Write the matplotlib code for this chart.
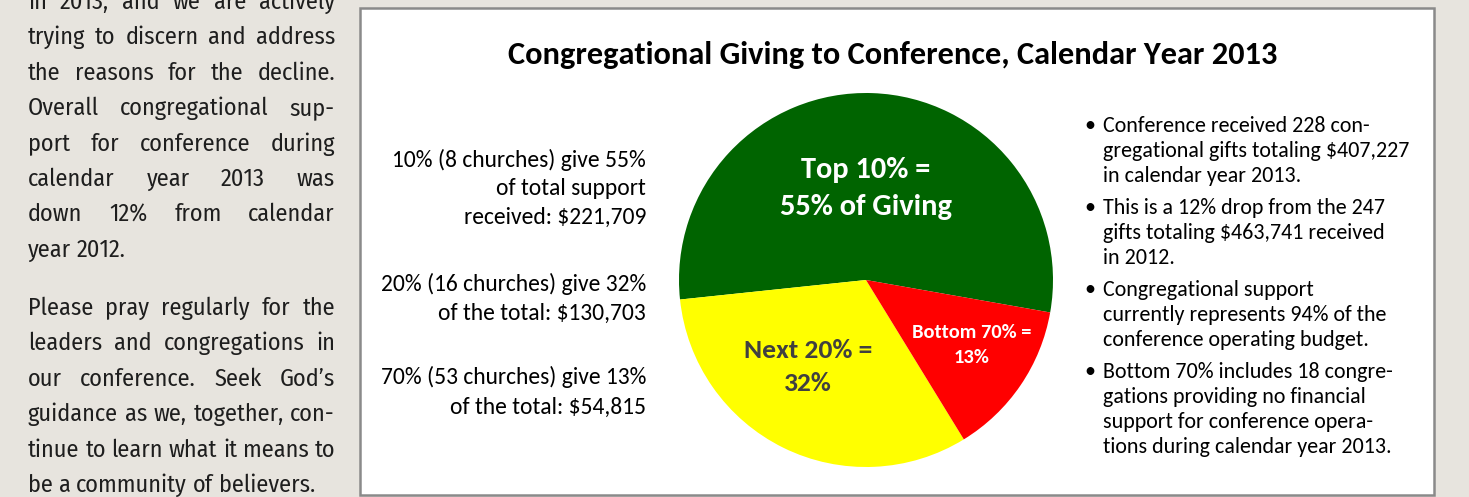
import matplotlib
matplotlib.use("Agg")
import matplotlib.pyplot as plt
from matplotlib import font_manager
from matplotlib.patches import Rectangle

# ---- data ----
groups = ["Top 10%", "Next 20%", "Bottom 70%"]
amounts = [221709, 130703, 54815]
colors = ["#006400", "#FFFF00", "#FF0000"]

title = "Congregational Giving to Conference, Calendar Year 2013"

slice_labels = [["Top 10% =", "55% of Giving"],
                ["Next 20% =", "32%"],
                ["Bottom 70% =", "13%"]]

side_notes = [["10% (8 churches) give 55%", "of total support", "received: $221,709"],
              ["20% (16 churches) give 32%", "of the total: $130,703"],
              ["70% (53 churches) give 13%", "of the total: $54,815"]]

bullets = [["Conference received 228 con-", "gregational gifts totaling $407,227",
            "in calendar year 2013."],
           ["This is a 12% drop from the 247", "gifts totaling $463,741 received", "in 2012."],
           ["Congregational support", "currently represents 94% of the",
            "conference operating budget."],
           ["Bottom 70% includes 18 congre-", "gations providing no financial",
            "support for conference opera-", "tions during calendar year 2013."]]

column_text = [["in 2013, and we are actively", "trying to discern and address",
                "the reasons for the decline.", "Overall congregational sup-",
                "port for conference during", "calendar year 2013 was",
                "down 12% from calendar", "year 2012."],
               ["Please pray regularly for the", "leaders and congregations in",
                "our conference. Seek God\u2019s", "guidance as we, together, con-",
                "tinue to learn what it means to", "be a community of believers."]]

W, H = 1469, 497
fig = plt.figure(figsize=(W / 100, H / 100), dpi=100)
fig.patch.set_facecolor("#E7E4DE")

# background layer (pixel coordinates, origin top-left)
bg = fig.add_axes([0, 0, 1, 1])
bg.set_xlim(0, W)
bg.set_ylim(H, 0)
bg.axis("off")
bg.add_patch(Rectangle((360.5, 8), 1074, 487, facecolor="white",
                       edgecolor="#8a8a8a", linewidth=1.8))

# pie
cx, cy, r = 866, 280, 187
pie_ax = fig.add_axes([(cx - r) / W, 1 - (cy + r) / H, 2 * r / W, 2 * r / H])
pie_ax.pie(amounts, colors=colors, startangle=-10, counterclock=True,
           wedgeprops=dict(linewidth=0))
pie_ax.set_xlim(-1, 1)
pie_ax.set_ylim(-1, 1)
pie_ax.axis("off")

# text layer
ax = fig.add_axes([0, 0, 1, 1])
ax.set_xlim(0, W)
ax.set_ylim(H, 0)
ax.axis("off")
ax.patch.set_alpha(0)

renderer = fig.canvas.get_renderer()


def text_width(s, size, **kw):
    t = ax.text(0, 0, s, fontsize=size, **kw)
    w = t.get_window_extent(renderer).width
    t.remove()
    return w


def fit_size(s, target, **kw):
    return 20 * target / text_width(s, 20, **kw)


def pick_condensed():
    have = {(f.name, f.weight) for f in font_manager.fontManager.ttflist}
    for name, weight in [("Fira Sans Condensed", 400), ("Roboto Condensed", 400),
                         ("IBM Plex Sans Condensed", 400), ("Fira Sans Condensed", 300),
                         ("Open Sans Condensed", 300)]:
        if (name, weight) in have:
            return dict(family=[name, "DejaVu Sans"], fontweight=weight)
    return dict(family=["DejaVu Sans"], fontstretch="condensed")


chart_font = dict(family=["Carlito", "DejaVu Sans"])

# title
ts = fit_size(title, 770, fontweight="bold", **chart_font)
ax.text(893, 64, title, fontsize=ts, fontweight="bold", ha="center",
        va="baseline", color="black", **chart_font)

# slice labels
label_pos = [(866, [178, 215]), (808, [358, 391]), (972, [338, 363])]
label_fit = [("55% of Giving", 172), ("Next 20% =", 128), ("Bottom 70% =", 120)]
label_col = ["white", "#404040", "white"]
for lines, (x, ys), (ref, wref), c in zip(slice_labels, label_pos, label_fit, label_col):
    s = fit_size(ref, wref, fontweight="bold", **chart_font)
    for line, y in zip(lines, ys):
        ax.text(x, y, line, fontsize=s, fontweight="bold", color=c,
                ha="center", va="baseline", **chart_font)

# left notes
ns = fit_size(side_notes[0][0], 253, **chart_font)
note_y = [[167, 195, 224], [291, 320], [384, 414]]
for block, ys in zip(side_notes, note_y):
    for line, y in zip(block, ys):
        ax.text(646, y, line, fontsize=ns, ha="right", va="baseline",
                color="black", **chart_font)

# right bullets
bs = fit_size(bullets[0][1], 307, **chart_font)
y = 132
for block in bullets:
    ax.text(1090, y, "\u2022", fontsize=bs, ha="center", va="baseline", **chart_font)
    for line in block:
        ax.text(1103, y, line, fontsize=bs, ha="left", va="baseline",
                color="black", **chart_font)
        y += 25
    y += 7

# justified column on the left
col_font = pick_condensed()
x0, x1 = 28, 335
natural = max(text_width(l, 20, **col_font)
              for par in column_text for l in par[:-1])
cs = min(21, 20 * (x1 - x0) / natural)
space = text_width("a a", cs, **col_font) - text_width("aa", cs, **col_font)
par_base = [9, 315]
for par, y0 in zip(column_text, par_base):
    for i, line in enumerate(par):
        y = y0 + i * 35.4
        words = line.split(" ")
        widths = [text_width(wd, cs, **col_font) for wd in words]
        if i == len(par) - 1 or len(words) == 1:
            gap = space
        else:
            gap = (x1 - x0 - sum(widths)) / (len(words) - 1)
        x = x0
        for wd, w in zip(words, widths):
            ax.text(x, y, wd, fontsize=cs, ha="left", va="baseline",
                    color="#1e1e1e", **col_font)
            x += w + gap

fig.savefig("out.png", dpi=100, facecolor=fig.get_facecolor())
